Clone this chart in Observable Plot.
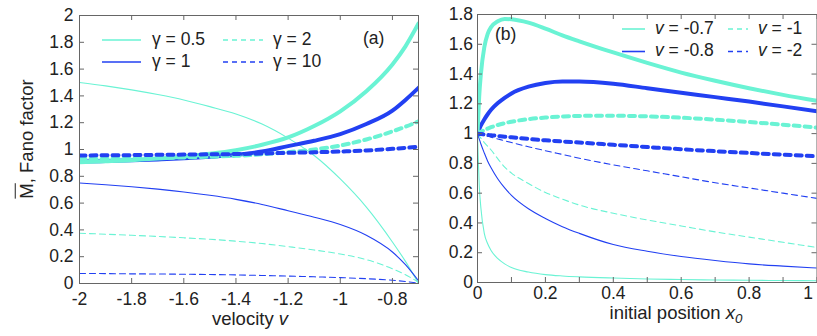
<!DOCTYPE html>
<html><head><meta charset="utf-8">
<script src="https://cdn.jsdelivr.net/npm/d3@7"></script>
<script src="https://cdn.jsdelivr.net/npm/@observablehq/plot@0.6"></script>
<style>
body{margin:0;background:#fff;}
#wrap{position:relative;width:817px;height:336px;overflow:hidden;font-family:"Liberation Sans",Arial,sans-serif;color:#222;}
.p{position:absolute;top:0;}
.t{position:absolute;white-space:nowrap;line-height:1;}
svg.ov{position:absolute;left:0;top:0;}
</style></head><body><div id="wrap"></div>
<script>
// ---------- Panel (a): velocity ----------
const velocity = [-2,-1.9,-1.8,-1.7,-1.6,-1.5,-1.4,-1.3,-1.2,-1.1,-1.0,-0.9,-0.8,-0.75,-0.7];
const meanG05  = [1.50,1.475,1.445,1.41,1.37,1.32,1.265,1.19,1.085,0.955,0.78,0.57,0.31,0.165,0.0];
const meanG1   = [0.75,0.737,0.722,0.704,0.683,0.658,0.628,0.59,0.543,0.495,0.44,0.36,0.235,0.14,0.02];
const meanG2   = [0.375,0.368,0.36,0.351,0.341,0.33,0.316,0.298,0.275,0.25,0.22,0.178,0.11,0.065,0.01];
const meanG10  = [0.075,0.074,0.072,0.071,0.069,0.067,0.064,0.06,0.055,0.05,0.044,0.036,0.024,0.015,0.003];
const fanoG05  = [0.905,0.912,0.92,0.932,0.948,0.968,0.995,1.035,1.09,1.175,1.285,1.435,1.635,1.77,1.94];
const fanoG1   = [0.91,0.914,0.919,0.926,0.934,0.945,0.96,0.985,1.025,1.065,1.115,1.19,1.29,1.37,1.46];
const fanoG2   = [0.93,0.932,0.934,0.937,0.941,0.946,0.953,0.964,0.98,1.0,1.03,1.075,1.135,1.17,1.21];
const fanoG10  = [0.955,0.957,0.958,0.96,0.962,0.964,0.966,0.97,0.975,0.979,0.985,0.993,1.005,1.012,1.02];
const xTicksA  = [-2,-1.8,-1.6,-1.4,-1.2,-1,-0.8];
const yTicksA  = [0,0.2,0.4,0.6,0.8,1,1.2,1.4,1.6,1.8,2];
const legendA  = ["γ = 0.5","γ = 1","γ = 2","γ = 10"];

// ---------- Panel (b): initial position ----------
const x0 = [0,0.002,0.005,0.01,0.02,0.03,0.04,0.06,0.08,0.1,0.15,0.2,0.25,0.3,0.4,0.5,0.6,0.7,0.8,0.9,1.0];
const meanV07 = [1.0,0.85,0.66,0.50,0.33,0.26,0.215,0.16,0.125,0.1,0.07,0.053,0.044,0.038,0.03,0.024,0.02,0.017,0.015,0.013,0.012];
const meanV08 = [1.0,0.985,0.965,0.93,0.87,0.815,0.77,0.695,0.635,0.585,0.495,0.43,0.375,0.33,0.255,0.21,0.175,0.148,0.125,0.11,0.097];
const meanV1  = [1.0,0.995,0.985,0.97,0.94,0.915,0.89,0.83,0.775,0.735,0.665,0.605,0.56,0.52,0.465,0.42,0.38,0.34,0.305,0.27,0.235];
const meanV2  = [1.0,0.999,0.997,0.994,0.988,0.982,0.976,0.964,0.952,0.94,0.912,0.885,0.86,0.835,0.79,0.75,0.71,0.67,0.635,0.6,0.565];
const fanoV07 = [1.0,1.1,1.25,1.40,1.58,1.67,1.715,1.755,1.77,1.768,1.745,1.705,1.66,1.62,1.545,1.475,1.41,1.355,1.305,1.26,1.22];
const fanoV08 = [1.0,1.015,1.03,1.055,1.095,1.13,1.16,1.205,1.24,1.27,1.315,1.34,1.35,1.35,1.335,1.305,1.275,1.245,1.215,1.183,1.15];
const fanoV1  = [1.0,1.002,1.006,1.012,1.024,1.034,1.043,1.058,1.07,1.08,1.097,1.108,1.115,1.119,1.12,1.116,1.107,1.094,1.078,1.06,1.04];
const fanoV2  = [1.0,0.999,0.998,0.997,0.994,0.991,0.989,0.984,0.979,0.975,0.964,0.955,0.947,0.94,0.925,0.91,0.895,0.882,0.87,0.859,0.848];
const xTicksB  = [0,0.1,0.2,0.3,0.4,0.5,0.6,0.7,0.8,0.9,1];
const xLabelsB = [0,0.2,0.4,0.6,0.8];
const xLastB   = [1];
const yTicksB  = [0,0.2,0.4,0.6,0.8,1,1.2,1.4,1.6,1.8];
const legendB  = ["-0.7","-0.8","-1","-2"];

// ---------- styling ----------
const H = 336;
const cyan = "#6af3d4", blue = "#2240f2", frameCol = "#666";
const styles = [
  {color: cyan, dash: null}, {color: blue, dash: null},
  {color: cyan, dash: "dashed"}, {color: blue, dash: "dashed"}
];
const seriesA = [[meanG05,fanoG05],[meanG1,fanoG1],[meanG2,fanoG2],[meanG10,fanoG10]];
const seriesB = [[meanV07,fanoV07],[meanV08,fanoV08],[meanV1,fanoV1],[meanV2,fanoV2]];

function panel(cfg) {
  const fw = cfg.width - cfg.ml - cfg.mr, fh = H - cfg.mt - cfg.mb;
  const marks = [];
  const thin = [], thick = [];
  cfg.series.forEach((pair, k) => {
    const st = styles[k];
    const mk = (ys, w, dash) => Plot.line(cfg.xs.map((x,i)=>({x, y: ys[i]})),
      {x:"x", y:"y", stroke: st.color, strokeWidth: w, strokeDasharray: dash, curve:"monotone-x", clip:true});
    thin.push(mk(pair[0], 1.1, st.dash ? "6,4" : null));
    thick.push(mk(pair[1], 4, st.dash ? "6,5" : null));
  });
  marks.push(...thin, thick[1], thick[0], thick[2], thick[3]);
  marks.push(Plot.frame({stroke: frameCol}));
  marks.push(Plot.tickY(cfg.yTicks, {y: d=>d, insetRight: fw-5, stroke: frameCol}));
  marks.push(Plot.tickY(cfg.yTicks, {y: d=>d, insetLeft: fw-5, stroke: frameCol}));
  marks.push(Plot.tickX(cfg.xTicks, {x: d=>d, insetBottom: fh-5, stroke: frameCol}));
  marks.push(Plot.tickX(cfg.xTicks, {x: d=>d, insetTop: fh-5, stroke: frameCol}));
  marks.push(Plot.axisY(cfg.yTicks, {tickSize:0, tickPadding: cfg.padY, tickFormat: d=>String(d), label:null}));
  marks.push(Plot.axisX(cfg.xLabels, {tickSize:0, tickPadding: cfg.padX, tickFormat: d=>String(d), label:null}));
  if (cfg.xLast) marks.push(Plot.axisX(cfg.xLast, {tickSize:0, tickPadding: cfg.padX, tickFormat: d=>String(d), label:null, textAnchor:"end", dx:-4}));
  const svg = Plot.plot({
    width: cfg.width, height: H,
    marginLeft: cfg.ml, marginRight: cfg.mr, marginTop: cfg.mt, marginBottom: cfg.mb,
    x: {domain: cfg.xDomain, label: null}, y: {domain: cfg.yDomain, label: null},
    style: {fontFamily: '"Liberation Sans", Arial, sans-serif', fontSize: "17.5px", color: "#222", background: "transparent", overflow: "visible"},
    marks
  });
  svg.classList.add("p");
  svg.style.left = cfg.left + "px";
  return svg;
}

const wrap = document.getElementById("wrap");
wrap.appendChild(panel({left:0, width:420, ml:79, mr:2, mt:15, mb:53, xs: velocity, series: seriesA,
  xDomain:[-2,-0.7], yDomain:[0,2], xTicks: xTicksA, xLabels: xTicksA, yTicks: yTicksA, padX:9, padY:6}));
wrap.appendChild(panel({left:420, width:397, ml:57, mr:0.5, mt:14, mb:54, xs: x0, series: seriesB,
  xDomain:[0,1], yDomain:[0,1.8], xTicks: xTicksB, xLabels: xLabelsB, xLast: xLastB, yTicks: yTicksB, padX:4, padY:4.5}));

// ---------- overlay text & legends ----------
function addText(html, x, y, size, anchor, extra) {
  const d = document.createElement("div");
  d.className = "t";
  d.innerHTML = html;
  d.style.fontSize = size + "px";
  d.style.left = x + "px";
  d.style.top = y + "px";
  d.style.transform = (anchor === "center" ? "translate(-50%,-50%)" : "translate(0,-50%)") + (extra || "");
  wrap.appendChild(d);
  return d;
}
addText('<span style="text-decoration:overline">M</span>, Fano factor', 27, 139, 18.5, "center", " rotate(-90deg)");
addText('velocity <i>v</i>', 250, 318.5, 18.5, "center");
addText('initial position <i>x<sub style="font-size:0.72em;line-height:0;vertical-align:-0.35em">0</sub></i>', 676, 313, 18.5, "center");
addText('(a)', 363, 39, 17.5, "left");
addText('(b)', 495, 35, 17.5, "left");

const ov = d3.select(wrap).append("svg").attr("class","ov").attr("width",817).attr("height",H);
const legA = {lineX:[102,223], lineW:[39,40], textX:[152,273], rowY:[40,62]};
const legB = {lineX:[622,728], lineW:[23,20], textX:[655,758], rowY:[29,51.5]};
function legend(L, labels, fmt) {
  labels.forEach((lab, k) => {
    const col = k < 2 ? 0 : 1, row = k % 2, st = styles[k];
    ov.append("line").attr("x1", L.lineX[col]).attr("x2", L.lineX[col] + L.lineW[col])
      .attr("y1", L.rowY[row]).attr("y2", L.rowY[row])
      .attr("stroke", st.color).attr("stroke-width", 1.6)
      .attr("stroke-dasharray", st.dash ? "5,4" : null);
    addText(fmt(lab), L.textX[col], L.rowY[row] - 0.5, 17.5, "left");
  });
}
legend(legA, legendA, s => s);
legend(legB, legendB, s => '<i>v</i> = ' + s);
</script></body></html>
